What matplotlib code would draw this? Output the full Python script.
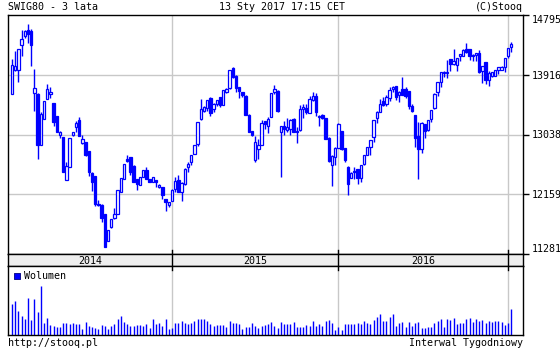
# SWIG80 weekly candles, 3 years, stooq style chart
import matplotlib
matplotlib.use("Agg")
import matplotlib.pyplot as plt
import pandas as pd

BLUE = "#0000ff"
GRID = "#c8c8c8"
FONT = "DejaVu Sans Mono"
FS = 7.2

# week ending dates (Fridays)
weeks = pd.date_range("2014-01-17", periods=157, freq="7D")

opens = [13633, 13989, 13989, 14351, 14487, 14575, 14560, 13648, 13633, 12877,
         13267, 13560, 13633, 13501, 13316, 13033, 13004, 12374, 12560, 13033,
         13145, 13257, 12916, 12926, 12789, 12477, 12423, 12023, 11998, 11876,
         11476, 11671, 11813, 11876, 12194, 12389, 12672, 12706, 12574, 12379,
         12291, 12413, 12511, 12389, 12340, 12364, 12267, 12267, 12086, 12008,
         12057, 12233, 12364, 12194, 12316, 12560, 12633, 12755, 12901, 13267,
         13389, 13423, 13570, 13414, 13487, 13584, 13472, 13667, 13716, 14009,
         13902, 13731, 13667, 13609, 13326, 13096, 12657, 12828, 12887, 13238,
         13170, 13292, 13667, 13682, 13072, 13170, 13111, 13121, 13267, 13096,
         13111, 13414, 13423, 13355, 13550, 13609, 13292, 13326, 13277, 12984,
         12594, 12706, 12838, 13096, 12838, 12560, 12399, 12486, 12525, 12399,
         12608, 12740, 12852, 12999, 13277, 13365, 13536, 13487, 13570, 13706,
         13745, 13619, 13706, 13706, 13682, 13462, 13326, 13023, 12828, 13194,
         13111, 13267, 13423, 13658, 13814, 13941, 13941, 14146, 14072, 14058,
         14185, 14194, 14292, 14292, 14204, 14204, 14233, 13975, 14107, 13843,
         13892, 13892, 13989, 13989, 14024, 14185, 14331]

highs = [14146, 14268, 14292, 14575, 14575, 14658, 14585, 14000, 13648, 13365,
         13536, 13780, 13741, 13501, 13316, 13096, 13004, 12633, 12984, 13082,
         13243, 13301, 13033, 12935, 12789, 12486, 12423, 12072, 12023, 11876,
         11632, 11793, 11959, 12218, 12403, 12608, 12730, 12706, 12584, 12389,
         12413, 12511, 12560, 12389, 12413, 12364, 12316, 12267, 12086, 12047,
         12242, 12413, 12438, 12340, 12545, 12633, 12740, 12877, 13228, 13560,
         13462, 13550, 13584, 13501, 13550, 13584, 13697, 13716, 13989, 14024,
         13911, 13731, 13667, 13619, 13340, 13096, 13014, 12965, 13257, 13238,
         13292, 13648, 13765, 13697, 13170, 13243, 13277, 13267, 13277, 13145,
         13472, 13487, 13487, 13609, 13667, 13648, 13326, 13336, 13277, 12999,
         12730, 12852, 13209, 13096, 12838, 12574, 12486, 12560, 12525, 12594,
         12730, 12852, 12950, 13257, 13389, 13560, 13584, 13619, 13731, 13745,
         13745, 13682, 13877, 13731, 13682, 13487, 13326, 13228, 13228, 13194,
         13257, 13399, 13648, 13814, 13950, 13975, 14136, 14155, 14292, 14170,
         14219, 14292, 14380, 14292, 14219, 14243, 14282, 14048, 14107, 13975,
         13960, 13989, 14024, 14038, 14170, 14316, 14399]

lows = [13633, 13975, 13804, 14185, 14463, 14390, 14038, 13379, 12682, 12877,
        13267, 13560, 13570, 13170, 13072, 12984, 12486, 12374, 12560, 13014,
        13072, 13014, 12901, 12721, 12428, 12203, 11989, 11989, 11754, 11388,
        11476, 11657, 11793, 11876, 12194, 12379, 12633, 12438, 12340, 12218,
        12291, 12413, 12389, 12340, 12340, 12267, 12252, 12096, 11915, 11974,
        12057, 12194, 12194, 12057, 12301, 12486, 12594, 12755, 12867, 13257,
        13365, 13389, 13306, 13375, 13462, 13438, 13472, 13648, 13706, 13863,
        13667, 13570, 13584, 13326, 13082, 13014, 12633, 12682, 12887, 13121,
        13062, 13292, 13633, 13375, 12413, 13033, 13072, 13033, 13072, 12916,
        13096, 13277, 13340, 13355, 13536, 13306, 13160, 13267, 12965, 12633,
        12281, 12584, 12838, 12804, 12633, 12145, 12399, 12389, 12316, 12340,
        12594, 12730, 12740, 12935, 13209, 13365, 13462, 13462, 13536, 13658,
        13550, 13521, 13619, 13570, 13414, 13365, 12852, 12389, 12769, 12984,
        13096, 13228, 13414, 13599, 13731, 13877, 13863, 13975, 14058, 13975,
        14121, 14185, 14243, 14136, 14121, 14121, 13941, 13794, 13780, 13755,
        13877, 13892, 13926, 13989, 13950, 14170, 14253]

closes = [14058, 14038, 14292, 14438, 14560, 14512, 14351, 13721, 12887, 13340,
          13536, 13706, 13667, 13218, 13072, 13082, 12486, 12574, 12984, 13082,
          13209, 13014, 12965, 12740, 12486, 12340, 12023, 11998, 11813, 11388,
          11632, 11793, 11862, 12218, 12403, 12608, 12647, 12486, 12340, 12316,
          12413, 12511, 12389, 12340, 12413, 12340, 12301, 12145, 12047, 12047,
          12218, 12350, 12194, 12330, 12535, 12608, 12740, 12877, 13228, 13414,
          13438, 13550, 13355, 13487, 13550, 13472, 13697, 13706, 13989, 13877,
          13716, 13682, 13619, 13326, 13082, 13033, 12935, 12887, 13209, 13194,
          13267, 13648, 13706, 13389, 13170, 13121, 13145, 13257, 13082, 13072,
          13414, 13438, 13375, 13560, 13609, 13365, 13316, 13277, 12965, 12643,
          12721, 12838, 13194, 12828, 12657, 12316, 12477, 12496, 12399, 12594,
          12730, 12852, 12950, 13257, 13375, 13487, 13472, 13584, 13697, 13731,
          13584, 13667, 13619, 13609, 13453, 13389, 12984, 12828, 13209, 13096,
          13257, 13399, 13633, 13804, 13950, 13960, 13960, 14072, 14121, 14170,
          14219, 14282, 14253, 14194, 14185, 14233, 13950, 14048, 13843, 13941,
          13960, 13989, 14024, 14024, 14170, 14316, 14365]

# relative volume (bar heights)
volume = [94, 102, 72, 57, 49, 112, 45, 109, 69, 147,
          37, 52, 30, 27, 24, 24, 37, 37, 32, 35,
          34, 34, 19, 39, 27, 24, 21, 19, 30, 27,
          19, 27, 34, 47, 57, 39, 32, 27, 27, 31,
          31, 27, 32, 22, 48, 34, 35, 27, 47, 19,
          22, 36, 37, 42, 35, 32, 37, 42, 48, 47,
          49, 42, 34, 27, 31, 30, 30, 24, 42, 37,
          35, 32, 19, 25, 25, 37, 27, 20, 27, 30,
          32, 40, 27, 22,
          39, 32, 34, 34, 39, 24, 24, 24, 30, 27,
          42, 27, 34, 27, 42, 45, 37, 15, 24, 16,
          34, 32, 34, 32, 37, 34, 42, 37, 32, 45,
          54, 64, 42, 42, 54, 64, 27, 37, 40, 24,
          40, 27, 37, 39, 20, 22, 24, 24, 37, 42,
          48, 24, 48, 45, 52, 34, 37, 37, 48, 50,
          40, 48, 42, 45, 37, 42, 40, 42, 42, 40,
          30, 37, 79]

price_ticks = [11281, 12159, 13038, 13916, 14795]

idx = list(range(len(weeks)))
years = [d.year for d in weeks]
year_edges = [i for i in idx[1:] if years[i] != years[i - 1]]
XMIN, XMAX = -1.25, 159.7

fig = plt.figure(figsize=(5.6, 3.5), dpi=100)
fig.patch.set_facecolor("white")

W, H = 560.0, 350.0
def box(x0, y0, x1, y1):
    return [x0 / W, 1 - y1 / H, (x1 - x0) / W, (y1 - y0) / H]

ax = fig.add_axes(box(8, 15, 523, 254))
band = fig.add_axes(box(8, 254, 523, 266))
axv = fig.add_axes(box(8, 266, 523, 335))

# price panel
for t in price_ticks[1:-1]:
    ax.axhline(t, color=GRID, lw=1, zorder=0)
for e in year_edges:
    ax.axvline(e, color=GRID, lw=1, zorder=0)
    axv.axvline(e, color=GRID, lw=1, zorder=0)
    # short black ticks next to the year band
    ax.plot([e, e], [0, 4 / 239], color="black", lw=1,
            transform=ax.get_xaxis_transform(), zorder=4)
    axv.plot([e, e], [1 - 4 / 69, 1], color="black", lw=1,
             transform=axv.get_xaxis_transform(), zorder=4)

ax.vlines(idx, lows, highs, color=BLUE, lw=1, zorder=2)
for i in idx:
    o, c = opens[i], closes[i]
    up = c >= o
    ax.bar(i, abs(c - o), bottom=min(o, c), width=0.72,
           facecolor="white" if up else BLUE, edgecolor=BLUE, lw=0.9, zorder=3)

ax.set_xlim(XMIN, XMAX)
ax.set_ylim(price_ticks[0], price_ticks[-1])
ax.set_xticks([])
ax.yaxis.tick_right()
ax.set_yticks(price_ticks)
ax.set_yticklabels([str(t) for t in price_ticks], fontfamily=FONT, fontsize=FS)
ax.tick_params(axis="y", length=4, width=1, pad=2, colors="black")
labels = ax.get_yticklabels()
labels[0].set_va("bottom")
labels[-1].set_va("top")

# year band
band.set_facecolor("#eeeeee")
band.set_xlim(XMIN, XMAX)
band.set_ylim(0, 1)
band.set_xticks([])
band.set_yticks([])
starts = [XMIN] + year_edges
ends = year_edges + [XMAX]
for s, e, y in zip(starts, ends, sorted(set(years))):
    if e - s > 20:
        band.text((s + e) / 2, 0.45, str(y), ha="center", va="center",
                  fontfamily=FONT, fontsize=FS)
for e in year_edges:
    band.plot([e, e], [0.0, 1.0], color="black", lw=1)

# volume panel
axv.vlines(idx, 0, volume, color=BLUE, lw=1)
axv.set_xlim(XMIN, XMAX)
axv.set_ylim(0, 207)
axv.set_xticks([])
axv.set_yticks([])
axv.scatter([1.6], [177], marker="s", s=18, color=BLUE, edgecolors="#000080",
            linewidths=0.6, zorder=4)
axv.text(3.6, 177, "Wolumen", va="center", ha="left", fontfamily=FONT, fontsize=FS)

for a in (ax, band, axv):
    for sp in a.spines.values():
        sp.set_color("black")
        sp.set_linewidth(1)

fig.text(8 / W, 1 - 7 / H, "SWIG80 - 3 lata", ha="left", va="center",
         fontfamily=FONT, fontsize=FS)
fig.text(282 / W, 1 - 7 / H, "13 Sty 2017 17:15 CET", ha="center", va="center",
         fontfamily=FONT, fontsize=FS)
fig.text(523 / W, 1 - 7 / H, "(C)Stooq", ha="right", va="center",
         fontfamily=FONT, fontsize=FS)
fig.text(8 / W, 1 - 343 / H, "http://stooq.pl", ha="left", va="center",
         fontfamily=FONT, fontsize=FS)
fig.text(523 / W, 1 - 343 / H, "Interwal Tygodniowy", ha="right", va="center",
         fontfamily=FONT, fontsize=FS)

fig.savefig("out.png", dpi=100, facecolor="white")
